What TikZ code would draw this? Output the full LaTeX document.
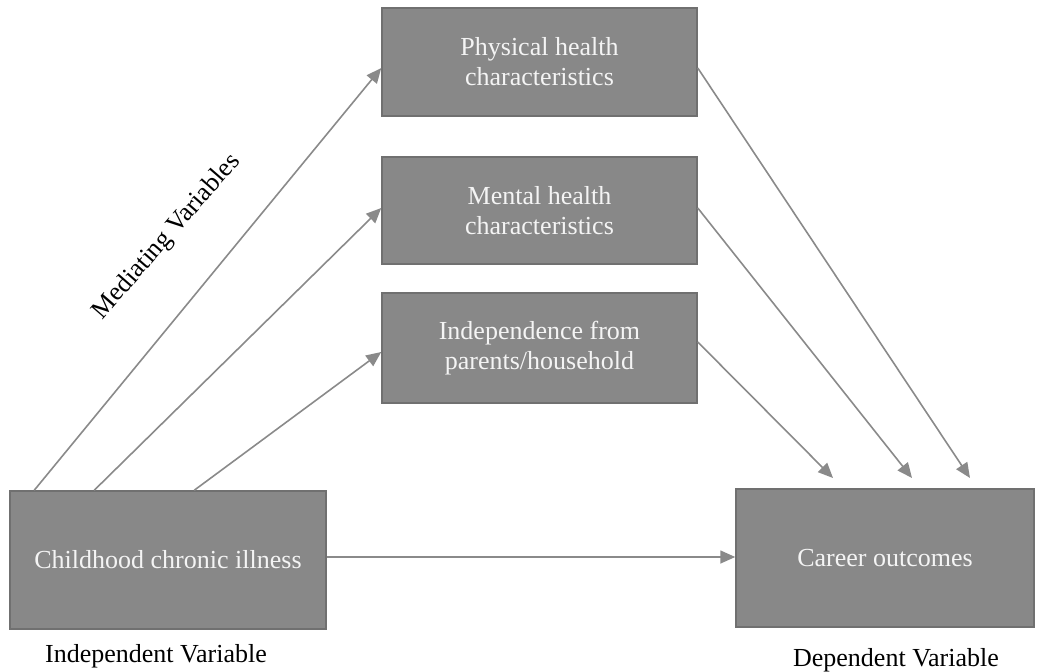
\documentclass[tikz,border=0pt]{standalone}
\usepackage{fontspec}
\setmainfont{Liberation Serif}
\usetikzlibrary{arrows.meta}
\definecolor{boxfill}{HTML}{888888}
\definecolor{boxline}{HTML}{707070}
\definecolor{arrowgray}{HTML}{8A8A8A}
\definecolor{boxtext}{HTML}{F4F4F4}
\begin{document}
\begin{tikzpicture}[x=1pt,y=-1pt,
  varbox/.style={draw=boxline, line width=1.5pt, fill=boxfill, text=boxtext,
    align=center, inner sep=0pt, font=\fontsize{26}{30}\selectfont},
  conn/.style={draw=arrowgray, line width=1.6pt,
    -{Triangle[length=15pt,width=13pt]}},
  lbl/.style={font=\fontsize{26}{30}\selectfont, text=black, inner sep=0pt}]
\useasboundingbox (0,0) rectangle (1042,672);
\node[varbox, minimum width=315pt, minimum height=108pt] (phys) at (539.5,62) {Physical health\\characteristics};
\node[varbox, minimum width=315pt, minimum height=107pt] (ment) at (539.5,210.5) {Mental health\\characteristics};
\node[varbox, minimum width=315pt, minimum height=110pt] (indep) at (539.5,348) {Independence from\\parents/household};
\node[varbox, minimum width=316pt, minimum height=138pt] (child) at (168,560) {Childhood chronic illness};
\node[varbox, minimum width=298pt, minimum height=138pt] (career) at (885,558) {Career outcomes};
\node[lbl] (iv) at (156,656) {Independent Variable};
\node[lbl] (dv) at (896,660) {Dependent Variable};
\node[lbl, rotate=49] (med) at (167,237) {Mediating Variables};
\coordinate (c1) at (833,478);
\coordinate (c2) at (912,478);
\coordinate (c3) at (970,478);
\draw[conn] ([xshift=25pt]child.north west) -- ([yshift=-6pt]phys.west);
\draw[conn] ([xshift=85pt]child.north west) -- ([yshift=2.5pt]ment.west);
\draw[conn] ([xshift=185pt]child.north west) -- ([yshift=-4pt]indep.west);
\draw[conn] ([yshift=-6pt]phys.east) -- (c3);
\draw[conn] ([yshift=2.5pt]ment.east) -- (c2);
\draw[conn] ([yshift=6pt]indep.east) -- (c1);
\draw[conn] ([yshift=3pt]child.east) -- ([yshift=3pt]child.east -| career.west);
\end{tikzpicture}
\end{document}
